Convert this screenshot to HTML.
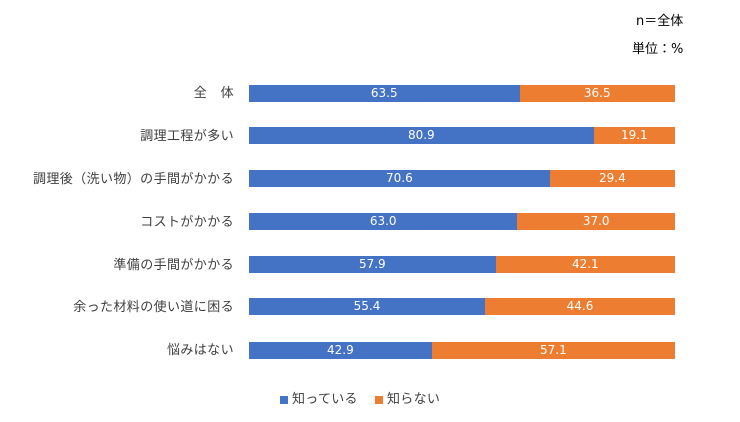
<!DOCTYPE html>
<html><head><meta charset="utf-8"><style>
body{margin:0;background:#fff;width:740px;height:422px;position:relative;overflow:hidden;font-family:"Liberation Sans","Noto Sans CJK JP",sans-serif;color:#404040}
.lab{position:absolute;right:506px;font-size:13px;white-space:nowrap;line-height:17px;letter-spacing:0.4px}
.bar{position:absolute;left:249px;height:17px;width:426px;display:flex}
.b{background:#4472C4;color:#fff;font-size:12px;text-align:center;line-height:17px;font-family:"DejaVu Sans",sans-serif}
.o{background:#ED7D31;color:#fff;font-size:12px;text-align:center;line-height:17px;flex:1;font-family:"DejaVu Sans",sans-serif}
.t{position:absolute;font-size:13px;color:#000;font-family:"DejaVu Sans","Noto Sans CJK JP",sans-serif}
.sq{position:absolute;width:8px;height:8px}
.lg{position:absolute;font-size:13px;line-height:16px;letter-spacing:0.3px}
</style></head><body>
<div class="t" style="left:636px;top:10px">n＝全体</div>
<div class="t" style="left:632px;top:38px">単位：%</div>

<div class="lab" style="top:84px">全　体</div>
<div class="bar" style="top:85px"><div class="b" style="width:63.5%">63.5</div><div class="o">36.5</div></div>
<div class="lab" style="top:127px">調理工程が多い</div>
<div class="bar" style="top:127px"><div class="b" style="width:80.9%">80.9</div><div class="o">19.1</div></div>
<div class="lab" style="top:170px">調理後（洗い物）の手間がかかる</div>
<div class="bar" style="top:170px"><div class="b" style="width:70.6%">70.6</div><div class="o">29.4</div></div>
<div class="lab" style="top:213px">コストがかかる</div>
<div class="bar" style="top:213px"><div class="b" style="width:63.0%">63.0</div><div class="o">37.0</div></div>
<div class="lab" style="top:256px">準備の手間がかかる</div>
<div class="bar" style="top:256px"><div class="b" style="width:57.9%">57.9</div><div class="o">42.1</div></div>
<div class="lab" style="top:298px">余った材料の使い道に困る</div>
<div class="bar" style="top:298px"><div class="b" style="width:55.4%">55.4</div><div class="o">44.6</div></div>
<div class="lab" style="top:341px">悩みはない</div>
<div class="bar" style="top:342px"><div class="b" style="width:42.9%">42.9</div><div class="o">57.1</div></div>

<div class="sq" style="left:280px;top:396px;background:#4472C4"></div>
<div class="lg" style="left:292px;top:391px">知っている</div>
<div class="sq" style="left:375px;top:396px;background:#ED7D31"></div>
<div class="lg" style="left:387px;top:391px">知らない</div>
</body></html>
